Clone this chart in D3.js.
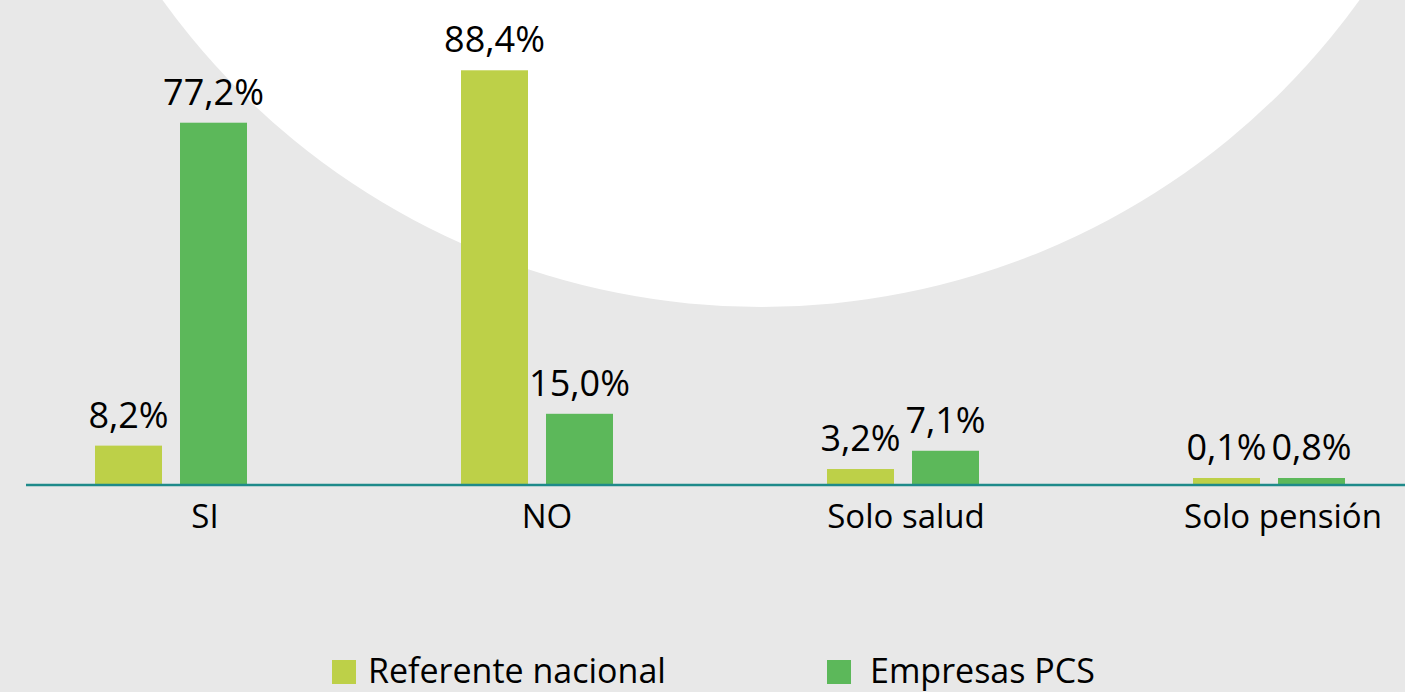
<!DOCTYPE html>
<html>
<head>
<meta charset="utf-8">
<script src="https://cdn.jsdelivr.net/npm/d3@7"></script>
<style>
  html, body { margin: 0; padding: 0; background: #e8e8e8; overflow: hidden; }
  text { font-family: "Open Sans", "Noto Sans", sans-serif; fill: #000; }
</style>
</head>
<body>
<svg id="chart" width="1405" height="692"></svg>
<script>
const categories = ["SI", "NO", "Solo salud", "Solo pensión"];
const seriesNames = ["Referente nacional", "Empresas PCS"];
const referenteNacional = [8.2, 88.4, 3.2, 0.1];
const empresasPCS = [77.2, 15.0, 7.1, 0.8];
const valueLabelsRef = ["8,2%", "88,4%", "3,2%", "0,1%"];
const valueLabelsPCS = ["77,2%", "15,0%", "7,1%", "0,8%"];
const colors = ["#bdd048", "#5cb85a"];

const W = 1405, H = 692;
const svg = d3.select("#chart");

// background + decorative circle
svg.append("rect").attr("width", W).attr("height", H).attr("fill", "#e8e8e8");
svg.append("circle").attr("cx", 761).attr("cy", -430).attr("r", 737).attr("fill", "#ffffff");

const baseline = 484;
const x0 = d3.scaleBand().domain(categories).range([-12, 1452]).padding(0);
const x1 = d3.scaleBand().domain(seriesNames).range([0, 152]).paddingInner(0.2118);
const y = d3.scaleLinear().domain([0, 100]).range([baseline, baseline - 468]);
const innerOffset = (x0.bandwidth() - 152) / 2;

const rows = categories.map((c, i) => ({
  cat: c,
  vals: [
    {s: seriesNames[0], v: referenteNacional[i], label: valueLabelsRef[i], color: colors[0]},
    {s: seriesNames[1], v: empresasPCS[i], label: valueLabelsPCS[i], color: colors[1]}
  ]
}));

const g = svg.selectAll("g.cat").data(rows).join("g")
  .attr("class", "cat")
  .attr("transform", d => `translate(${x0(d.cat) + innerOffset},0)`);

const topY = d => Math.min(y(d.v), baseline - 6);

g.selectAll("rect").data(d => d.vals).join("rect")
  .attr("x", d => x1(d.s))
  .attr("width", x1.bandwidth())
  .attr("y", topY)
  .attr("height", d => baseline - topY(d) + 1)
  .attr("fill", d => d.color);

g.selectAll("text.val").data(d => d.vals).join("text")
  .attr("class", "val")
  .attr("x", d => x1(d.s) + x1.bandwidth() / 2)
  .attr("y", d => topY(d) - 18)
  .attr("text-anchor", "middle")
  .style("font-size", "36px")
  .text(d => d.label);

// category axis (labels sit slightly right of group centre in the original)
const labelShift = [34, 10, 3, 14];
const xAxis = d3.axisBottom(x0).tickSize(0).tickPadding(0);
const axisG = svg.append("g").attr("transform", `translate(0,${baseline})`).call(xAxis);
axisG.select(".domain").remove();
axisG.selectAll(".tick text")
  .attr("x", (d, i) => labelShift[i])
  .attr("y", 44)
  .attr("dy", 0)
  .style("font-size", "33px")
  .style("font-family", "'Open Sans', sans-serif")
  .attr("fill", "#000");
svg.append("line")
  .attr("x1", 26).attr("x2", W)
  .attr("y1", baseline + 1).attr("y2", baseline + 1)
  .attr("stroke", "#1e8a8a").attr("stroke-width", 2.5);

// legend
const legendX = [332, 827];
const leg = svg.selectAll("g.leg").data(seriesNames).join("g")
  .attr("class", "leg")
  .attr("transform", (d, i) => `translate(${legendX[i]},660)`);
leg.append("rect").attr("width", 24).attr("height", 24).attr("fill", (d, i) => colors[i]);
leg.append("text")
  .attr("x", (d, i) => i === 0 ? 36 : 43)
  .attr("y", 23)
  .style("font-size", "34px")
  .text(d => d);
</script>
</body>
</html>
